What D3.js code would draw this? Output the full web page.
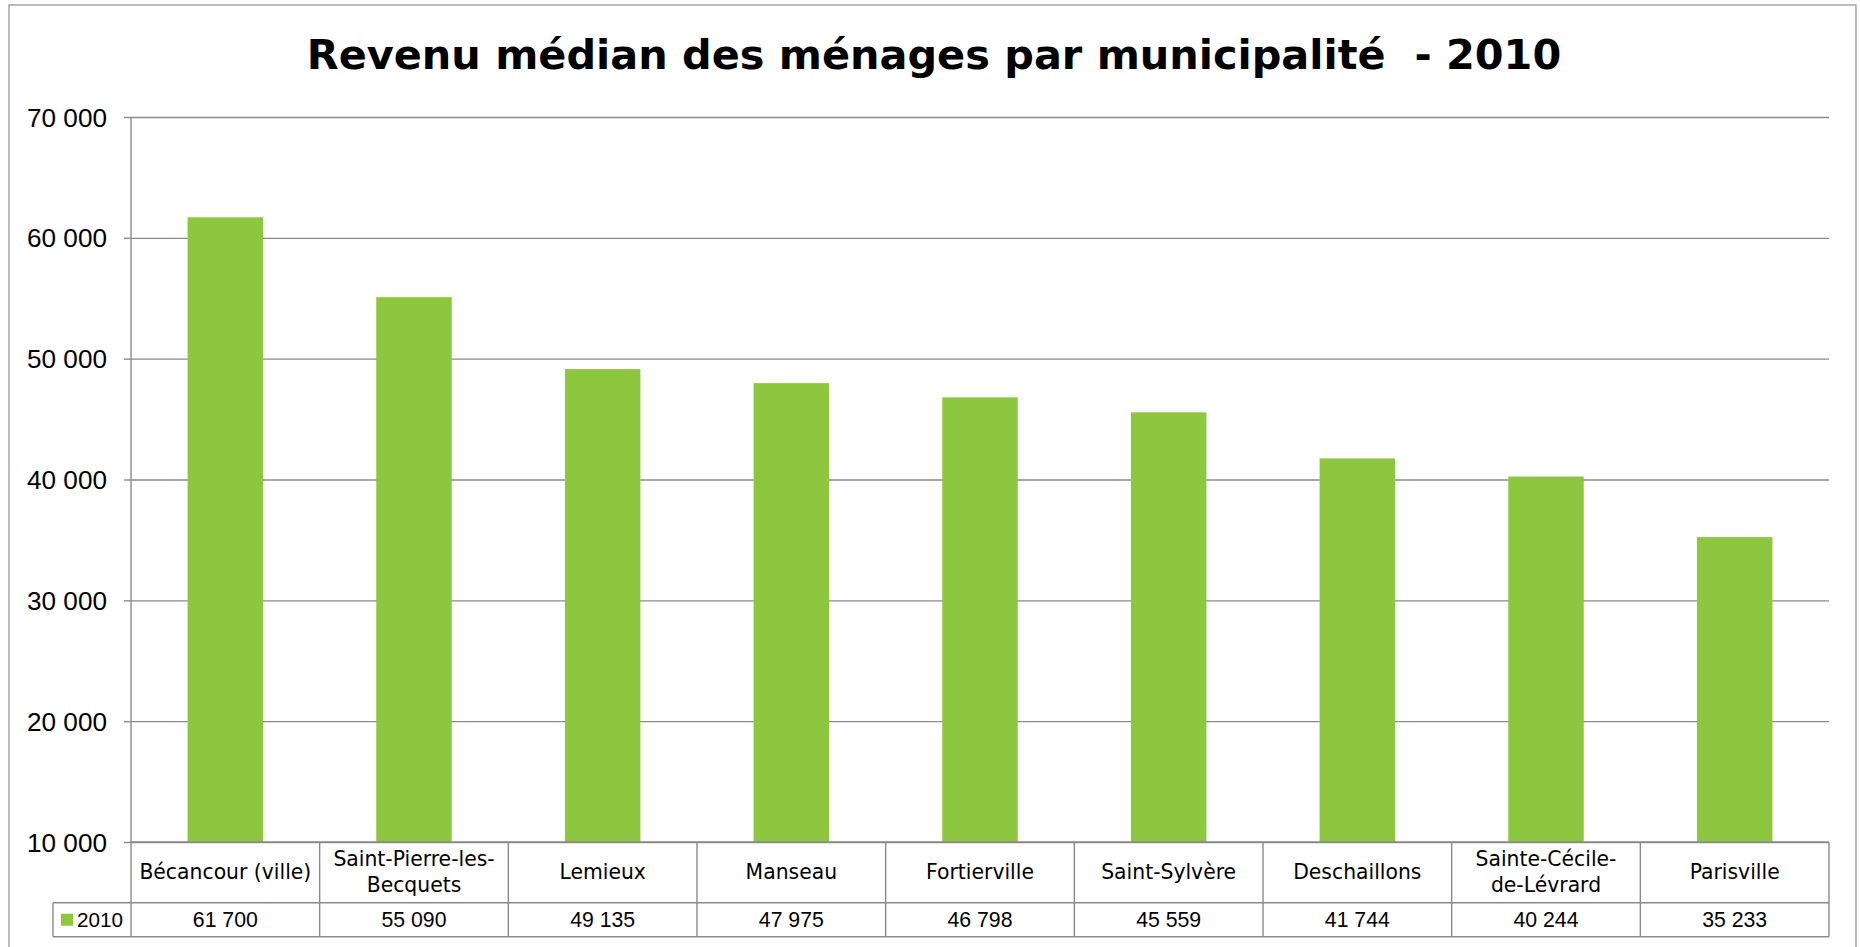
<!DOCTYPE html>
<html>
<head>
<meta charset="utf-8">
<script src="https://cdn.jsdelivr.net/npm/d3@7"></script>
<style>
html,body{margin:0;padding:0;background:#fff;}
svg{display:block;}
text{font-family:"DejaVu Sans",sans-serif;fill:#000;}
</style>
</head>
<body>
<svg id="chart" width="1860" height="947"></svg>
<script>
const title = "Revenu médian des ménages par municipalité  - 2010";
const categories = [
  "Bécancour (ville)", "Saint-Pierre-les-Becquets", "Lemieux", "Manseau",
  "Fortierville", "Saint-Sylvère", "Deschaillons", "Sainte-Cécile-de-Lévrard", "Parisville"
];
const categoryLines = [
  ["Bécancour (ville)"], ["Saint-Pierre-les-", "Becquets"], ["Lemieux"], ["Manseau"],
  ["Fortierville"], ["Saint-Sylvère"], ["Deschaillons"], ["Sainte-Cécile-", "de-Lévrard"], ["Parisville"]
];
const seriesName = "2010";
const values2010 = [61700, 55090, 49135, 47975, 46798, 45559, 41744, 40244, 35233];
const yTicks = [10000, 20000, 30000, 40000, 50000, 60000, 70000];

const svg = d3.select("#chart");
const plotL = 131, plotR = 1829, plotT = 117, plotB = 842;
const row1Bottom = 902.7, row2Bottom = 936.7, legendLeft = 53;
const green = "#8dc63f", gridCol = "#8a8a8a";
const numFont = "'Liberation Sans', Arial, sans-serif";

const loc = d3.formatLocale({decimal: ",", thousands: " ", grouping: [3], currency: ["", " $"]});
const fmt = loc.format(",");

function fitSize(str, target, weight, base, family) {
  const t = svg.append("text").attr("font-size", base).attr("font-weight", weight || "normal")
    .style("font-family", family || "DejaVu Sans")
    .style("white-space", "pre").text(str);
  const w = t.node().getComputedTextLength();
  t.remove();
  return base * target / w;
}

// outer border
svg.append("rect").attr("x", 9).attr("y", 5).attr("width", 1847).attr("height", 960)
  .attr("fill", "none").attr("stroke", "#a6a6a6").attr("stroke-width", 1.5);

// title
const titleSize = fitSize(title, 1255, "bold", 40);
svg.append("text").attr("x", 934).attr("y", 69).attr("text-anchor", "middle")
  .attr("font-size", titleSize).attr("font-weight", "bold")
  .style("white-space", "pre").text(title);

const x = d3.scaleBand().domain(categories).range([plotL, plotR]).paddingInner(0.6).paddingOuter(0.3);
const xCell = d3.scaleBand().domain(categories).range([plotL, plotR]).padding(0);
const y = d3.scaleLinear().domain([10000, 70000]).range([plotB, plotT]);

// gridlines
const grid = svg.append("g").attr("transform", `translate(${plotL},0)`)
  .call(d3.axisLeft(y).tickValues(yTicks).tickSize(-(plotR - plotL)).tickFormat(""));
grid.select(".domain").remove();
grid.selectAll(".tick line").attr("stroke", gridCol).attr("stroke-width", 1.4);

// y axis with ticks and labels
const tickFont = fitSize("70 000", 80, "normal", 24, numFont);
const yAxis = svg.append("g").attr("transform", `translate(${plotL},0)`)
  .call(d3.axisLeft(y).tickValues(yTicks).tickSize(7).tickPadding(17).tickFormat(fmt));
yAxis.select(".domain").attr("stroke", gridCol).attr("stroke-width", 1.4).attr("d", `M0,${plotT}V${plotB}`);
yAxis.selectAll(".tick line").attr("stroke", gridCol).attr("stroke-width", 1.4);
yAxis.selectAll(".tick text").attr("font-size", tickFont).style("font-family", numFont).attr("fill", "#000").attr("dy", "0.35em");

// bars
svg.append("g").selectAll("rect").data(values2010).join("rect")
  .attr("x", (d, i) => x(categories[i]))
  .attr("width", x.bandwidth())
  .attr("y", d => y(d))
  .attr("height", d => y(10000) - y(d))
  .attr("fill", green);

// data table
const tbl = svg.append("g").attr("stroke", gridCol).attr("stroke-width", 1.4).attr("fill", "none");
tbl.append("line").attr("x1", plotL).attr("x2", plotR).attr("y1", plotB).attr("y2", plotB);
tbl.append("line").attr("x1", legendLeft).attr("x2", plotR).attr("y1", row1Bottom).attr("y2", row1Bottom);
tbl.append("line").attr("x1", legendLeft).attr("x2", plotR).attr("y1", row2Bottom).attr("y2", row2Bottom);
tbl.append("line").attr("x1", legendLeft).attr("x2", legendLeft).attr("y1", row1Bottom).attr("y2", row2Bottom);
tbl.selectAll("line.v").data(categories).join("line").attr("class", "v")
  .attr("x1", d => xCell(d)).attr("x2", d => xCell(d)).attr("y1", plotB).attr("y2", row2Bottom);
tbl.append("line").attr("x1", plotR).attr("x2", plotR).attr("y1", plotB).attr("y2", row2Bottom);

const catSize = fitSize("Bécancour (ville)", 172, "normal", 20);
const lineH = 26;
const catG = svg.append("g");
categories.forEach((c, i) => {
  const lines = categoryLines[i];
  const cx = xCell(c) + xCell.bandwidth() / 2;
  const cy = (plotB + row1Bottom) / 2;
  const t = catG.append("text").attr("text-anchor", "middle").attr("font-size", catSize);
  lines.forEach((ln, j) => {
    t.append("tspan").attr("x", cx)
      .attr("y", cy + (j - (lines.length - 1) / 2) * lineH)
      .attr("dy", "0.35em").text(ln);
  });
});

const valSize = fitSize("61 700", 65, "normal", 20, numFont);
svg.append("g").selectAll("text").data(values2010).join("text")
  .attr("x", (d, i) => xCell(categories[i]) + xCell.bandwidth() / 2)
  .attr("y", (row1Bottom + row2Bottom) / 2).attr("dy", "0.35em")
  .attr("text-anchor", "middle").attr("font-size", valSize).style("font-family", numFont).text(d => fmt(d));

// legend cell
const legY = (row1Bottom + row2Bottom) / 2;
svg.append("rect").attr("x", 61).attr("y", legY - 6).attr("width", 12).attr("height", 12).attr("fill", green);
svg.append("text").attr("x", 77).attr("y", legY).attr("dy", "0.35em").style("font-family", numFont)
  .attr("font-size", fitSize(seriesName, 46, "normal", 20, numFont)).text(seriesName);
</script>
</body>
</html>
